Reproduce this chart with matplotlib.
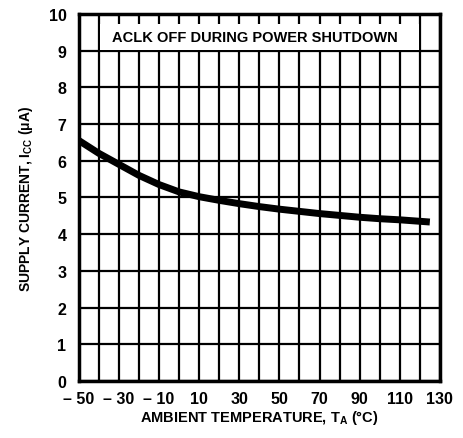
import numpy as np
import matplotlib
matplotlib.use("Agg")
import matplotlib.pyplot as plt
from matplotlib.patches import Rectangle

# curve
temp = [-50, -40, -30, -20, -10, 0, 10, 20, 30, 40, 50, 60, 70, 80, 90, 100, 110, 125]
icc = [6.55, 6.2, 5.9, 5.6, 5.35, 5.15, 5.02, 4.92, 4.83, 4.75, 4.68, 4.62, 4.56, 4.51, 4.46, 4.42, 4.39, 4.33]

xticks = [-50, -30, -10, 10, 30, 50, 70, 90, 110, 130]
xlabels = ["\u2013 50", "\u2013 30", "\u2013 10", "10", "30", "50", "70", "90", "110", "130"]
yticks = list(range(0, 11))

plt.rcParams['font.family'] = ['Liberation Sans', 'DejaVu Sans']
plt.rcParams['font.weight'] = 'bold'
plt.rcParams['axes.labelweight'] = 'bold'
plt.rcParams['mathtext.fontset'] = 'custom'
plt.rcParams['mathtext.rm'] = 'Liberation Sans:bold'
plt.rcParams['mathtext.default'] = 'rm'

fig = plt.figure(figsize=(4.64, 4.39), dpi=100)
ax = fig.add_axes([0.170, 0.130, 0.778, 0.836])

ax.set_xlim(-50, 130)
ax.set_ylim(0, 10)
ax.set_xticks(xticks)
ax.set_xticklabels(xlabels)
ax.set_xticks(np.arange(-40, 130, 20), minor=True)
ax.set_yticks(yticks)
ax.tick_params(which='both', length=0, labelsize=11.5, pad=7)
ax.tick_params(axis='y', pad=9)
ax.grid(True, which='both', color='black', linewidth=1.6)
ax.set_axisbelow(True)
for s in ax.spines.values():
    s.set_linewidth(2.5)
    s.set_zorder(5)

# title box hides the grid
ax.add_patch(Rectangle((-39.6, 9.03), 159.2, 0.7, facecolor='white', edgecolor='none', zorder=2))
ax.text(38, 9.38, "ACLK OFF DURING POWER SHUTDOWN", ha='center', va='center', fontsize=10.5, zorder=3)

ax.plot(temp, icc, color='black', linewidth=5, solid_capstyle='butt', zorder=4)

ax.set_xlabel("AMBIENT TEMPERATURE, T$_A$ (°C)", fontsize=10.5, labelpad=2)
ax.set_ylabel("SUPPLY CURRENT, I$_{CC}$ (\u03bcA)", fontsize=10, labelpad=10)

fig.savefig("out.png", dpi=100)
